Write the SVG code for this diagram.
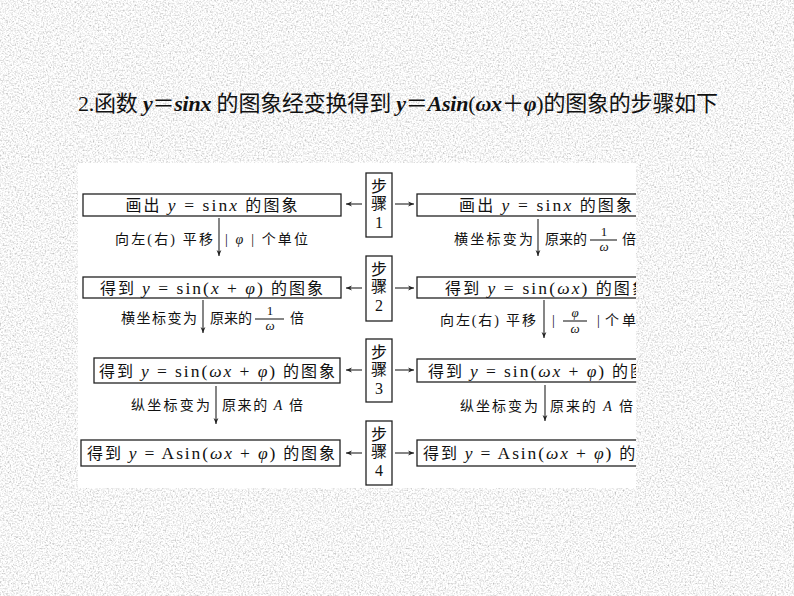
<svg xmlns="http://www.w3.org/2000/svg" width="794" height="596" viewBox="0 0 794 596">
<style>
text { font-family: "Liberation Serif", "Noto Sans CJK SC", serif; fill: #111; }
.t { font-size: 22px; }
.bi { font-style: italic; font-weight: bold; }
.bx { font-size: 16px; }
.m { font-size: 17.5px; }
.i { font-style: italic; }
.lb { font-size: 14px; }
.fr { font-size: 13px; }
.st { font-size: 16px; }
.box { fill: #fff; stroke: #222; stroke-width: 1.3; }
.ln { stroke: #222; stroke-width: 1.1; fill: none; }
</style>
<defs>
<filter id="noise" x="0" y="0" width="100%" height="100%" filterUnits="objectBoundingBox">
<feTurbulence type="fractalNoise" baseFrequency="0.6" numOctaves="2" seed="4"/>
<feColorMatrix type="saturate" values="0"/>
<feComponentTransfer>
<feFuncR type="linear" slope="1.35" intercept="0.25"/>
<feFuncG type="linear" slope="1.35" intercept="0.25"/>
<feFuncB type="linear" slope="1.35" intercept="0.25"/>
<feFuncA type="linear" slope="0" intercept="1"/>
</feComponentTransfer>
</filter>
<marker id="ah" viewBox="0 0 10 10" refX="10" refY="5" markerWidth="7" markerHeight="6" markerUnits="userSpaceOnUse" orient="auto">
<path d="M0,1 L10,5 L0,9 L3,5 Z" fill="#222"/>
</marker>
<clipPath id="pc"><rect x="78" y="163" width="558" height="325"/></clipPath>
</defs>

<rect x="0" y="0" width="794" height="596" fill="#e9e9e9" filter="url(#noise)"/>

<g id="title">
<text class="t" x="78" y="111" textLength="640" lengthAdjust="spacing">2.函数 <tspan class="bi">y</tspan>＝<tspan class="bi">sinx</tspan> 的图象经变换得到 <tspan class="bi">y</tspan>＝<tspan class="bi">Asin</tspan>(<tspan class="bi">ωx</tspan>＋<tspan class="bi">φ</tspan>)的图象的步骤如下</text>
</g>

<rect id="panel" x="78" y="163" width="558" height="325" fill="#fff"/>

<g clip-path="url(#pc)">
<g id="box-L1"><rect class="box" x="83" y="194" width="258" height="22"/>
<text class="bx" x="211.5" y="211" text-anchor="middle" textLength="172" lengthAdjust="spacing">画出 <tspan class="m i">y</tspan><tspan class="m"> = sin</tspan><tspan class="m i">x</tspan> 的图象</text></g>
<g id="box-L2"><rect class="box" x="83" y="277" width="258" height="21"/>
<text class="bx" x="211.5" y="294" text-anchor="middle" textLength="223" lengthAdjust="spacing">得到 <tspan class="m i">y</tspan><tspan class="m"> = sin(</tspan><tspan class="m i">x</tspan><tspan class="m"> + </tspan><tspan class="m i">φ</tspan><tspan class="m">)</tspan> 的图象</text></g>
<g id="box-L3"><rect class="box" x="94" y="358" width="246" height="25"/>
<text class="bx" x="217" y="377" text-anchor="middle" textLength="236" lengthAdjust="spacing">得到 <tspan class="m i">y</tspan><tspan class="m"> = sin(</tspan><tspan class="m i">ωx</tspan><tspan class="m"> + </tspan><tspan class="m i">φ</tspan><tspan class="m">)</tspan> 的图象</text></g>
<g id="box-L4"><rect class="box" x="81" y="440" width="259" height="26"/>
<text class="bx" x="211" y="459" text-anchor="middle" textLength="248" lengthAdjust="spacing">得到 <tspan class="m i">y</tspan><tspan class="m"> = Asin(</tspan><tspan class="m i">ωx</tspan><tspan class="m"> + </tspan><tspan class="m i">φ</tspan><tspan class="m">)</tspan> 的图象</text></g>

<g id="box-R1"><rect class="box" x="417" y="194" width="258" height="22"/>
<text class="bx" x="459" y="211" textLength="173" lengthAdjust="spacing">画出 <tspan class="m i">y</tspan><tspan class="m"> = sin</tspan><tspan class="m i">x</tspan> 的图象</text></g>
<g id="box-R2"><rect class="box" x="417" y="277" width="258" height="21"/>
<text class="bx" x="445" y="294" textLength="203" lengthAdjust="spacing">得到 <tspan class="m i">y</tspan><tspan class="m"> = sin(</tspan><tspan class="m i">ωx</tspan><tspan class="m">)</tspan> 的图象</text></g>
<g id="box-R3"><rect class="box" x="417" y="359" width="258" height="23"/>
<text class="bx" x="428" y="377" textLength="236" lengthAdjust="spacing">得到 <tspan class="m i">y</tspan><tspan class="m"> = sin(</tspan><tspan class="m i">ωx</tspan><tspan class="m"> + </tspan><tspan class="m i">φ</tspan><tspan class="m">)</tspan> 的图象</text></g>
<g id="box-R4"><rect class="box" x="417" y="440" width="258" height="26"/>
<text class="bx" x="423" y="459" textLength="248" lengthAdjust="spacing">得到 <tspan class="m i">y</tspan><tspan class="m"> = Asin(</tspan><tspan class="m i">ωx</tspan><tspan class="m"> + </tspan><tspan class="m i">φ</tspan><tspan class="m">)</tspan> 的图象</text></g>

<g id="step1"><rect class="box" x="366" y="173" width="26" height="64"/>
<text class="st" x="379" y="192" text-anchor="middle">步</text><text class="st" x="379" y="209" text-anchor="middle">骤</text><text class="st" x="379" y="228" text-anchor="middle" font-size="17">1</text></g>
<g id="step2"><rect class="box" x="366" y="256" width="26" height="65"/>
<text class="st" x="379" y="275" text-anchor="middle">步</text><text class="st" x="379" y="292" text-anchor="middle">骤</text><text class="st" x="379" y="311" text-anchor="middle" font-size="17">2</text></g>
<g id="step3"><rect class="box" x="366" y="339" width="26" height="63"/>
<text class="st" x="379" y="358" text-anchor="middle">步</text><text class="st" x="379" y="375" text-anchor="middle">骤</text><text class="st" x="379" y="394" text-anchor="middle" font-size="17">3</text></g>
<g id="step4"><rect class="box" x="366" y="421" width="26" height="64"/>
<text class="st" x="379" y="440" text-anchor="middle">步</text><text class="st" x="379" y="457" text-anchor="middle">骤</text><text class="st" x="379" y="476" text-anchor="middle" font-size="17">4</text></g>

<g id="connectors">
<line class="ln" x1="362" y1="204" x2="346" y2="204" marker-end="url(#ah)"/>
<line class="ln" x1="395" y1="204" x2="414" y2="204" marker-end="url(#ah)"/>
<line class="ln" x1="362" y1="288" x2="346" y2="288" marker-end="url(#ah)"/>
<line class="ln" x1="395" y1="288" x2="414" y2="288" marker-end="url(#ah)"/>
<line class="ln" x1="362" y1="370" x2="346" y2="370" marker-end="url(#ah)"/>
<line class="ln" x1="395" y1="370" x2="414" y2="370" marker-end="url(#ah)"/>
<line class="ln" x1="362" y1="453" x2="346" y2="453" marker-end="url(#ah)"/>
<line class="ln" x1="395" y1="453" x2="414" y2="453" marker-end="url(#ah)"/>
<line class="ln" x1="219" y1="218" x2="219" y2="256" marker-end="url(#ah)"/>
<line class="ln" x1="203" y1="300" x2="203" y2="333" marker-end="url(#ah)"/>
<line class="ln" x1="216" y1="386" x2="216" y2="424" marker-end="url(#ah)"/>
<line class="ln" x1="538" y1="219" x2="538" y2="256" marker-end="url(#ah)"/>
<line class="ln" x1="544" y1="300" x2="544" y2="338" marker-end="url(#ah)"/>
<line class="ln" x1="545" y1="385" x2="545" y2="421" marker-end="url(#ah)"/>
</g>

<g id="labels">
<text class="lb" x="213" y="244" text-anchor="end" textLength="98" lengthAdjust="spacing">向左(右) 平移</text>
<text class="lb" x="225" y="244" textLength="83" lengthAdjust="spacing">| <tspan class="i">φ</tspan> | 个单位</text>

<text class="lb" x="197" y="323" text-anchor="end" textLength="76" lengthAdjust="spacing">横坐标变为</text>
<text class="lb" x="210" y="323" textLength="42" lengthAdjust="spacing">原来的</text>
<line class="ln" x1="255" y1="319" x2="284" y2="319"/>
<text class="fr" x="270" y="315" text-anchor="middle">1</text>
<text class="fr i" x="270" y="330" text-anchor="middle">ω</text>
<text class="lb" x="290" y="323">倍</text>

<text class="lb" x="210" y="410" text-anchor="end" textLength="79" lengthAdjust="spacing">纵坐标变为</text>
<text class="lb" x="222" y="410" textLength="81" lengthAdjust="spacing">原来的 <tspan class="i">A</tspan> 倍</text>

<text class="lb" x="533" y="244" text-anchor="end" textLength="79" lengthAdjust="spacing">横坐标变为</text>
<text class="lb" x="545" y="244" textLength="42" lengthAdjust="spacing">原来的</text>
<line class="ln" x1="590" y1="240" x2="617" y2="240"/>
<text class="fr" x="604" y="236" text-anchor="middle">1</text>
<text class="fr i" x="604" y="251" text-anchor="middle">ω</text>
<text class="lb" x="622" y="244">倍</text>

<text class="lb" x="536" y="325" text-anchor="end" textLength="96" lengthAdjust="spacing">向左(右) 平移</text>
<text class="lb" x="552" y="325">|</text>
<line class="ln" x1="563" y1="321" x2="587" y2="321"/>
<text class="fr i" x="575" y="317" text-anchor="middle">φ</text>
<text class="fr i" x="575" y="333" text-anchor="middle">ω</text>
<text class="lb" x="597" y="325">|</text>
<text class="lb" x="605" y="325" letter-spacing="3">个单位</text>

<text class="lb" x="538" y="411" text-anchor="end" textLength="78" lengthAdjust="spacing">纵坐标变为</text>
<text class="lb" x="550" y="411" textLength="83" lengthAdjust="spacing">原来的 <tspan class="i">A</tspan> 倍</text>
</g>
</g>
</svg>
